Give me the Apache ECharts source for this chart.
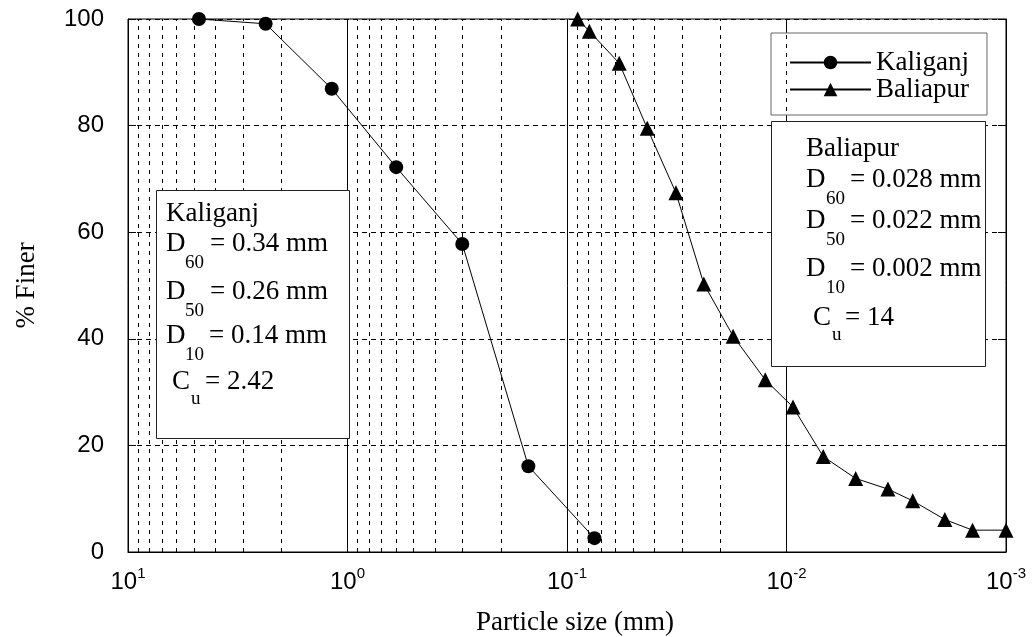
<!DOCTYPE html>
<html>
<head>
<meta charset="utf-8">
<script src="https://cdn.jsdelivr.net/npm/echarts@6/dist/echarts.min.js"></script>
<style>
html,body{margin:0;padding:0;background:#fff;}
#chart{width:1034px;height:637px;}
</style>
</head>
<body>
<div id="chart"></div>
<script>
// sieve analysis, particle size in mm vs % finer
var kaliSize  = [4.75, 2.36, 1.18, 0.6, 0.3, 0.15, 0.075];
var kaliFiner = [100, 99.1, 86.9, 72.2, 57.8, 16.1, 2.6];

var baliSize  = [0.0894, 0.0791, 0.0578, 0.0431, 0.0319, 0.0238, 0.0175, 0.0125,
                 0.00934, 0.0068, 0.00484, 0.00345, 0.00266, 0.0019, 0.00142, 0.001];
var baliFiner = [100, 97.7, 91.7, 79.5, 67.4, 50.3, 40.5, 32.3,
                 27.2, 17.9, 13.8, 11.8, 9.6, 6.1, 4.1, 4.1];

var minorMantissa = [2, 3, 4, 5, 6, 7, 8, 9];
var minorDecades = [-3, -2, -1, 0];

var SANS = '"Liberation Sans", Arial, sans-serif';
var SERIF = '"Liberation Serif", "Times New Roman", serif';

var chart = echarts.init(document.getElementById('chart'));

function pairs(xs, ys){
    return xs.map(function(x, i){ return [x, ys[i]]; });
}

var minorLines = [];
minorDecades.forEach(function(d){
    minorMantissa.forEach(function(m){
        minorLines.push({xAxis: m * Math.pow(10, d)});
    });
});

// text piece: [text, x, baseline, size]
function piece(p){
    var fs = p[3];
    return {
        type:'text', z:11,
        x:p[1], y:p[2] - 0.34 * fs,
        style:{text:p[0], fill:'#000', fontFamily:SERIF, fontSize:fs, verticalAlign:'middle', align:'left'}
    };
}

var kaliText = [
    ['Kaliganj', 166, 223, 27],
    ['D', 166, 253, 27], ['60', 185, 269, 19], ['= 0.34 mm', 210, 253, 27],
    ['D', 166, 301, 27], ['50', 185, 317, 19], ['= 0.26 mm', 210, 301, 27],
    ['D', 166, 345, 27], ['10', 185, 361, 19], ['= 0.14 mm', 209, 345, 27],
    ['C', 172, 391, 27], ['u', 191, 405, 19], ['= 2.42', 205, 391, 27]
];
var baliText = [
    ['Baliapur', 806, 158, 27],
    ['D', 806, 189, 27], ['60', 826, 205, 19], ['= 0.028 mm', 850, 189, 27],
    ['D', 806, 230, 27], ['50', 826, 246, 19], ['= 0.022 mm', 850, 230, 27],
    ['D', 806, 278, 27], ['10', 826, 294, 19], ['= 0.002 mm', 850, 278, 27],
    ['C', 813, 327, 27], ['u', 832, 341, 19], ['= 14', 845, 327, 27]
];

var graphics = [
    {type:'rect', z:10, shape:{x:156.5, y:190.5, width:193, height:248},
     style:{fill:'#fff', stroke:'#222', lineWidth:1}},
    {type:'rect', z:10, shape:{x:771.5, y:121.5, width:214, height:245},
     style:{fill:'#fff', stroke:'#222', lineWidth:1}}
].concat(kaliText.map(piece)).concat(baliText.map(piece));

var option = {
    animation:false,
    backgroundColor:'#fff',
    grid:{left:128, right:28, top:19, bottom:85, show:true, borderColor:'#000', borderWidth:1,
          containLabel:false, outerBoundsMode:'none'},
    legend:{
        data:['Kaliganj', 'Baliapur'],
        orient:'vertical',
        left:771, top:33,
        padding:[16, 18, 12, 18],
        itemWidth:81, itemHeight:17, itemGap:0,
        backgroundColor:'#fff', borderColor:'#666', borderWidth:1,
        selectedMode:false,
        textStyle:{fontFamily:SERIF, fontSize:27, color:'#000'}
    },
    xAxis:{
        type:'log', logBase:10, min:0.001, max:10, inverse:true, splitNumber:4,
        name:'Particle size (mm)', nameLocation:'middle', nameGap:57,
        nameTextStyle:{fontFamily:SERIF, fontSize:27, color:'#000', padding:[0, 0, 0, 16]},
        axisLine:{show:true, lineStyle:{color:'#000', width:1}},
        axisTick:{show:false},
        splitLine:{show:true, lineStyle:{color:'#000', width:1, type:'solid'}},
        axisLabel:{
            margin:14,
            formatter:function(v){
                var e = Math.round(Math.log10(v));
                return '{b|10}{s|' + e + '}';
            },
            rich:{
                b:{fontFamily:SANS, fontSize:24, color:'#000', lineHeight:28, verticalAlign:'bottom'},
                s:{fontFamily:SANS, fontSize:15, color:'#000', lineHeight:16, verticalAlign:'top'}
            }
        }
    },
    yAxis:[{
        type:'value', min:0, max:100, interval:20,
        name:'% Finer', nameLocation:'middle', nameGap:88, nameRotate:90,
        nameTextStyle:{fontFamily:SERIF, fontSize:27, color:'#000'},
        axisLine:{show:true, lineStyle:{color:'#000', width:1}},
        axisTick:{show:true, inside:true, length:8, lineStyle:{color:'#000'}},
        axisLabel:{margin:24, fontFamily:SANS, fontSize:24, color:'#000'},
        splitLine:{show:true, lineStyle:{color:'#000', width:1, type:[5, 4]}}
    }, {
        type:'value', min:0, max:100, interval:20, position:'right',
        axisLine:{show:true, lineStyle:{color:'#000', width:1}},
        axisTick:{show:true, inside:true, length:8, lineStyle:{color:'#000'}},
        axisLabel:{show:false},
        splitLine:{show:false}
    }],
    series:[{
        name:'minor', type:'line', data:[], silent:true,
        markLine:{
            symbol:'none', silent:true, label:{show:false},
            lineStyle:{color:'#000', width:1, type:[4, 5]},
            emphasis:{disabled:true},
            data:minorLines
        }
    }, {
        name:'Kaliganj', type:'line', z:5, clip:false,
        data:pairs(kaliSize, kaliFiner),
        symbol:'circle', symbolSize:14,
        itemStyle:{color:'#000'},
        lineStyle:{color:'#000', width:1}
    }, {
        name:'Baliapur', type:'line', z:5, clip:false,
        data:pairs(baliSize, baliFiner),
        symbol:'triangle', symbolSize:15,
        itemStyle:{color:'#000'},
        lineStyle:{color:'#000', width:1}
    }],
    graphic:graphics
};

chart.setOption(option);
window.onresize = function(){
    chart.resize();
};
</script>
</body>
</html>
